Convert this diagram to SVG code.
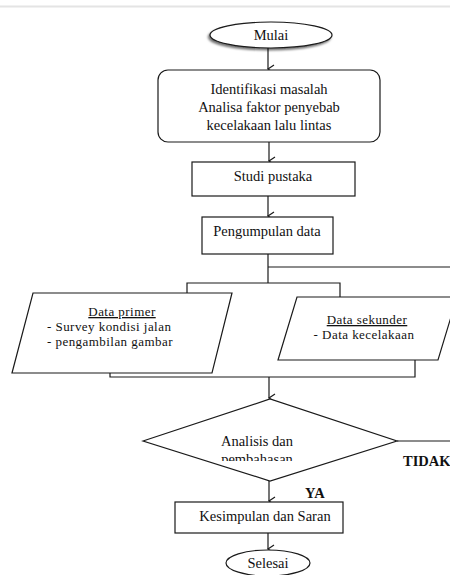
<svg xmlns="http://www.w3.org/2000/svg" width="450" height="575" viewBox="0 0 450 575">
<defs>
<style>
.s{fill:#fff;stroke:#1a1a1a;stroke-width:1.2}
.c{fill:none;stroke:#1a1a1a;stroke-width:1.2}
.t{font-family:"Liberation Serif","DejaVu Serif",serif;font-size:14.5px;fill:#111}
.p{font-size:13px;letter-spacing:0.45px}
.m{text-anchor:middle}
.b{font-weight:bold}
</style>
<marker id="ar" markerWidth="10" markerHeight="10" refX="5" refY="7" orient="auto" markerUnits="userSpaceOnUse" viewBox="0 0 10 10">
<polyline points="1,1 5,7 9,1" fill="none" stroke="#1a1a1a" stroke-width="1.2"/>
</marker>
<filter id="sh" x="-20%" y="-30%" width="140%" height="170%">
<feDropShadow dx="-1.5" dy="2" stdDeviation="1.2" flood-color="#000" flood-opacity="0.55"/>
</filter>
<clipPath id="cp"><rect x="140" y="400" width="260" height="61"/></clipPath>
</defs>
<rect x="0" y="0" width="450" height="575" fill="#fff"/>
<line x1="0" y1="6.5" x2="450" y2="6.5" stroke="#e4e4e4" stroke-width="2"/>
<g id="connectors">
<line class="c" x1="268" y1="48" x2="268" y2="69" marker-end="url(#ar)"/>
<line class="c" x1="269" y1="142" x2="269" y2="161" marker-end="url(#ar)"/>
<line class="c" x1="268" y1="196" x2="268" y2="216" marker-end="url(#ar)"/>
<polyline class="c" points="268,254 268,283"/>
<line class="c" x1="268" y1="267" x2="450" y2="267"/>
<polyline class="c" points="187,293 187,283 340,283 340,297"/>
<polyline class="c" points="110,373 110,377 415,377 415,360"/>
<line class="c" x1="269" y1="377" x2="269" y2="398" marker-end="url(#ar)"/>
<line class="c" x1="269" y1="481" x2="269" y2="501" marker-end="url(#ar)"/>
<line class="c" x1="268" y1="533" x2="268" y2="549" marker-end="url(#ar)"/>
<line class="c" x1="397" y1="441" x2="450" y2="441"/>
<text class="t b" x="403" y="466">TIDAK</text>
<text class="t b" x="305" y="498">YA</text>
</g>
<g id="mulai">
<ellipse class="s" cx="271" cy="35" rx="61" ry="13" filter="url(#sh)"/>
<text class="t m" x="271" y="40">Mulai</text>
</g>
<g id="identifikasi">
<rect class="s" x="158" y="70" width="222" height="72" rx="10"/>
<text class="t m" x="269" y="94">Identifikasi masalah</text>
<text class="t m" x="269" y="112">Analisa faktor penyebab</text>
<text class="t m" x="269" y="130">kecelakaan lalu lintas</text>
</g>
<g id="studi">
<rect class="s" x="192" y="162" width="163" height="34"/>
<text class="t m" x="273" y="181">Studi pustaka</text>
</g>
<g id="pengumpulan">
<rect class="s" x="202" y="217" width="131" height="37"/>
<text class="t m" x="267" y="236">Pengumpulan data</text>
</g>
<g id="primer">
<polygon class="s" points="33,293 232,293 212,373 12,373"/>
<text class="t p m" x="122" y="316" text-decoration="underline">Data primer</text>
<text class="t p" x="47" y="331">- Survey kondisi jalan</text>
<text class="t p" x="47" y="346">- pengambilan gambar</text>
</g>
<g id="sekunder">
<polygon class="s" points="297,297 457,297 438,360 278,360"/>
<text class="t p m" x="367" y="324" text-decoration="underline">Data sekunder</text>
<text class="t p m" x="364" y="339">- Data kecelakaan</text>
</g>
<g id="analisis">
<polygon class="s" points="143,441 270,399 397,441 270,481"/>
<g clip-path="url(#cp)">
<text class="t m" x="257" y="446">Analisis dan</text>
<text class="t m" x="257" y="464">pembahasan</text>
</g>
</g>
<g id="kesimpulan">
<rect class="s" x="175" y="502" width="168" height="31"/>
<text class="t m" x="265" y="521">Kesimpulan dan Saran</text>
</g>
<g id="selesai">
<ellipse class="s" cx="268" cy="563" rx="42" ry="13"/>
<text class="t m" x="268" y="568">Selesai</text>
</g>
</svg>
